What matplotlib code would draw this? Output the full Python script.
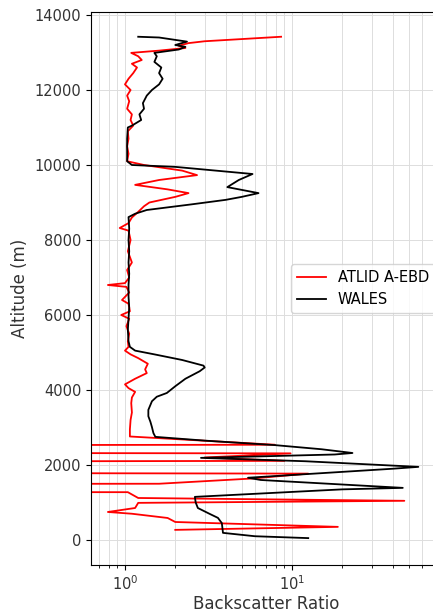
import matplotlib
matplotlib.use("Agg")
import matplotlib.pyplot as plt

# WALES profile (altitude m, backscatter ratio)
wales_alt = [13420, 13400, 13290, 13200, 13150, 13080, 12990, 12900, 12750, 12600,
             12450, 12300, 12150, 12000, 11850, 11650, 11500, 11350, 11200, 11050,
             11000, 10700, 10400, 10100, 10000, 9950, 9850, 9760, 9600, 9410,
             9250, 9150, 9070, 8950, 8800, 8700, 8610, 8300, 8000, 7700,
             7400, 7100, 6800, 6500, 6200, 5900, 5600, 5300, 5150, 5050,
             4950, 4800, 4650, 4600, 4500, 4300, 4100, 3920, 3820, 3700,
             3470, 3300, 3150, 3010, 2850, 2750, 2650, 2530, 2420, 2320,
             2280, 2190, 2100, 1950, 1900, 1660, 1600, 1390, 1350, 1150,
             1000, 853, 700, 590, 450, 190, 100, 50]
wales_val = [1.20, 1.6, 2.35, 2.0, 2.3, 2.1, 1.5, 1.55, 1.5, 1.65,
             1.6, 1.68, 1.6, 1.45, 1.35, 1.28, 1.3, 1.22, 1.25, 1.1,
             1.04, 1.03, 1.03, 1.03, 1.1, 2.0, 3.5, 5.8, 4.8, 4.1,
             6.3, 5.0, 4.0, 2.5, 1.35, 1.15, 1.05, 1.06, 1.05, 1.06,
             1.05, 1.06, 1.05, 1.05, 1.06, 1.05, 1.04, 1.05, 1.07, 1.15,
             1.5, 2.2, 2.95, 3.0, 2.8, 2.3, 2.0, 1.78, 1.55, 1.45,
             1.38, 1.38, 1.42, 1.45, 1.48, 1.52, 3.0, 7.9, 15, 23,
             18, 2.85, 12, 57, 40, 5.45, 6.5, 46, 20, 2.62,
             2.65, 2.73, 3.2, 3.6, 3.8, 3.86, 6.0, 12.5]

# ATLID A-EBD profile (altitude m, backscatter ratio)
atlid_alt = [13420, 13300, 13250, 13180, 13120, 13050, 12990, 12900, 12800, 12700,
             12600, 12450, 12300, 12150, 12000, 11850, 11700, 11500, 11350, 11200,
             11050, 10900, 10700, 10500, 10300, 10100, 10000, 9850, 9730, 9600,
             9470, 9350, 9250, 9150, 9000, 8900, 8750, 8600, 8450, 8320,
             8250, 8000, 7700, 7400, 7200, 7000, 6850, 6800, 6750, 6600,
             6400, 6300, 6100, 6000, 5900, 5700, 5500, 5300, 5150, 5050,
             4950, 4850, 4700, 4550, 4450, 4300, 4150, 4050, 3950, 3800,
             3650, 3400, 3200, 2950, 2760, 2540, 2520, 2330, 2310, 2200,
             2110, 2080, 1800, 1770, 1640, 1500, 1490, 1280, 1275, 1120,
             1045, 990, 853, 747, 700, 587, 480, 350, 270]
atlid_val = [8.6, 3.0, 2.4, 2.1, 2.3, 1.6, 1.09, 1.2, 1.26, 1.1,
             1.18, 1.12, 1.05, 1.0, 1.08, 1.03, 1.06, 1.03, 1.1, 1.08,
             1.12, 1.04, 1.05, 1.03, 1.05, 1.03, 1.3, 2.2, 2.7, 1.6,
             1.15, 1.8, 2.4, 2.0, 1.4, 1.3, 1.2, 1.1, 1.05, 0.93,
             1.05, 1.08, 1.04, 1.1, 1.03, 1.06, 1.0, 0.79, 1.02, 1.06,
             0.96, 1.05, 1.07, 0.95, 1.06, 1.02, 1.06, 1.04, 1.05, 1.0,
             1.08, 1.2, 1.37, 1.32, 1.35, 1.15, 1.0, 1.05, 1.15, 1.1,
             1.09, 1.1, 1.08, 1.07, 1.07, 7.9, 0.001, 0.001, 9.8, 3.0,
             9.0, 0.001, 0.001, 12.5, 5.8, 1.6, 0.001, 0.001, 1.04, 1.2,
             47, 1.2, 1.15, 0.79, 1.1, 1.8, 2.0, 18.8, 2.0]

fig = plt.figure(figsize=(4.33, 6.12), dpi=100)
ax = fig.add_axes([91 / 433, 1 - 565 / 612, (442 - 91) / 433, (565 - 12) / 612])

ax.plot(atlid_val, atlid_alt, color="red", linewidth=1.3, label="ATLID A-EBD")
ax.plot(wales_val, wales_alt, color="black", linewidth=1.3, label="WALES")

ax.set_xscale("log")
ax.set_xlim(0.626, 79)
ax.set_ylim(-667, 14080)
ax.set_yticks(range(0, 14001, 2000))

ax.grid(True, which="both", color="#dddddd", linewidth=0.7)
ax.set_axisbelow(True)
ax.tick_params(labelsize=10.5, labelcolor="#333333")
ax.set_xlabel("Backscatter Ratio", fontsize=12, labelpad=1, color="#333333")
ax.set_ylabel("Altitude (m)", fontsize=12, color="#333333")
ax.legend(loc="center right", fontsize=10.5)

fig.savefig("out.png", dpi=100)
plt.close(fig)
